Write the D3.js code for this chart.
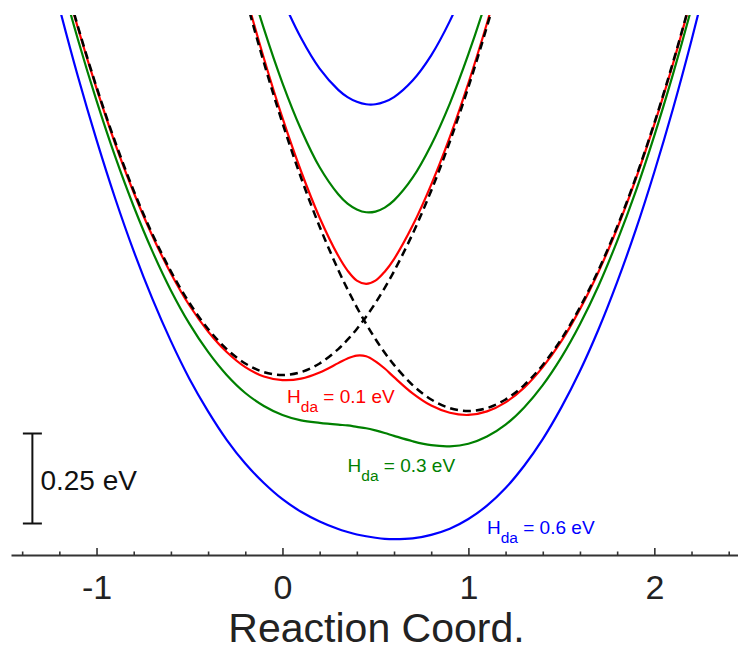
<!DOCTYPE html>
<html>
<head>
<meta charset="utf-8">
<script src="https://cdn.jsdelivr.net/npm/d3@7"></script>
<style>
  html, body { margin: 0; padding: 0; background: #fff; }
  svg { display: block; font-family: "Liberation Sans", Arial, Helvetica, sans-serif; }
</style>
</head>
<body>
<div id="chart"></div>
<script>
// reaction coordinate samples, energies in eV (0 = reactant minimum)
const coords = [-1.3, -1.2, -1.1, -1.0, -0.9, -0.8, -0.7, -0.6, -0.5, -0.4, -0.3, -0.2, -0.1, 0, 0.1, 0.2, 0.3, 0.35, 0.4, 0.45, 0.5, 0.55, 0.6, 0.7, 0.8, 0.9, 1.0, 1.1, 1.2, 1.3, 1.4, 1.5, 1.6, 1.7, 1.8, 1.9, 2.0, 2.1, 2.2, 2.3];

const diabaticA = [1.352, 1.152, 0.968, 0.800, 0.648, 0.512, 0.392, 0.288, 0.200, 0.128, 0.072, 0.032, 0.008, 0.000, 0.008, 0.032, 0.072, 0.098, 0.128, 0.162, 0.200, 0.242, 0.288, 0.392, 0.512, 0.648, 0.800, 0.968, 1.152, 1.352, null, null, null, null, null, null, null, null, null, null];
const diabaticB = [null, null, null, null, null, null, null, null, null, null, 1.252, 1.052, 0.868, 0.700, 0.548, 0.412, 0.292, 0.238, 0.188, 0.142, 0.100, 0.062, 0.028, -0.028, -0.068, -0.092, -0.100, -0.092, -0.068, -0.028, 0.028, 0.100, 0.188, 0.292, 0.412, 0.548, 0.700, 0.868, 1.052, 1.252];

const lower01 = [1.348, 1.148, 0.964, 0.796, 0.643, 0.507, 0.387, 0.282, 0.193, 0.121, 0.064, 0.022, -0.004, -0.014, -0.010, 0.007, 0.033, 0.046, 0.054, 0.052, 0.038, 0.018, -0.006, -0.051, -0.085, -0.105, -0.111, -0.101, -0.076, -0.035, 0.022, 0.094, 0.183, 0.287, 0.407, 0.544, 0.696, 0.864, 1.049, 1.249];
const upper01 = [null, null, null, null, null, null, null, null, null, null, 1.260, 1.062, 0.880, 0.714, 0.566, 0.437, 0.331, 0.290, 0.262, 0.253, 0.262, 0.287, 0.322, 0.415, 0.529, 0.661, 0.811, 0.977, 1.160, null, null, null, null, null, null, null, null, null, null, null];

const lower03 = [1.320, 1.118, 0.932, 0.762, 0.607, 0.468, 0.344, 0.235, 0.142, 0.064, 0.000, -0.050, -0.086, -0.111, -0.126, -0.133, -0.138, -0.140, -0.144, -0.148, -0.154, -0.161, -0.169, -0.184, -0.195, -0.198, -0.191, -0.171, -0.138, -0.090, -0.028, 0.049, 0.141, 0.248, 0.372, 0.510, 0.665, 0.835, 1.020, 1.222];
const upper03 = [null, null, null, null, null, null, null, null, null, null, 1.324, 1.134, 0.962, 0.811, 0.682, 0.577, 0.502, 0.476, 0.460, 0.452, 0.454, 0.465, 0.485, 0.548, 0.639, 0.754, 0.891, 1.047, 1.222, null, null, null, null, null, null, null, null, null, null, null];

const lower06 = [1.228, 1.021, 0.829, 0.653, 0.491, 0.344, 0.212, 0.094, -0.011, -0.101, -0.180, -0.246, -0.300, -0.345, -0.380, -0.407, -0.428, -0.436, -0.443, -0.448, -0.452, -0.455, -0.456, -0.454, -0.444, -0.427, -0.400, -0.363, -0.314, -0.252, -0.178, -0.090, 0.011, 0.127, 0.258, 0.403, 0.564, 0.739, 0.930, 1.136];
const upper06 = [null, null, null, null, null, null, null, null, null, null, null, null, 1.176, 1.045, 0.936, 0.851, 0.792, 0.772, 0.759, 0.752, 0.752, 0.759, 0.772, 0.818, 0.888, 0.983, 1.100, null, null, null, null, null, null, null, null, null, null, null, null, null];

const couplings = ["0.1", "0.3", "0.6"];
const labelX = [0.025, 0.35, 1.10];
const labelE = [-0.077, -0.269, -0.442];

const majorTicks = [-1, 0, 1, 2];
const minorTicks = [-1.4, -1.2, -0.8, -0.6, -0.4, -0.2, 0.2, 0.4, 0.6, 0.8, 1.2, 1.4, 1.6, 1.8, 2.2, 2.4];

const scaleBarE = 0.25;
const scaleBarMid = -0.2875;
const scaleBarX = -1.345;

const width = 738;
const height = 652;

const svg = d3.select("#chart").append("svg")
  .attr("width", width)
  .attr("height", height);

const x = d3.scaleLinear().domain([-1.46, 2.45]).range([11, 738]);
const y = d3.scaleLinear().domain([-0.5, 1.0]).range([555, 15]);

svg.append("clipPath")
  .attr("id", "plot-clip")
  .append("rect")
  .attr("x", 0)
  .attr("y", y(1.0))
  .attr("width", width)
  .attr("height", y(-0.5) - y(1.0));

const line = d3.line()
  .defined((d) => d[1] != null)
  .x((d) => x(d[0]))
  .y((d) => y(d[1]))
  .curve(d3.curveCatmullRom.alpha(0.5));

const series = [
  { values: lower06, color: "#0000ff" },
  { values: upper06, color: "#0000ff" },
  { values: lower03, color: "#008000" },
  { values: upper03, color: "#008000" },
  { values: lower01, color: "#ff0000" },
  { values: upper01, color: "#ff0000" },
  { values: diabaticA, color: "#000", dash: "8,5" },
  { values: diabaticB, color: "#000", dash: "8,5" },
];

const curves = svg.append("g").attr("clip-path", "url(#plot-clip)");

curves.selectAll("path")
  .data(series)
  .join("path")
  .attr("fill", "none")
  .attr("stroke", (d) => d.color)
  .attr("stroke-width", (d) => (d.dash ? 2.5 : 2.2))
  .attr("stroke-dasharray", (d) => d.dash || null)
  .attr("d", (d) => line(coords.map((c, i) => [c, d.values[i]])));

// Hda labels
const labelColors = ["#ff0000", "#008000", "#0000ff"];
const labels = svg.append("g").attr("font-size", 19);
couplings.forEach((h, i) => {
  const t = labels.append("text")
    .attr("x", x(labelX[i]))
    .attr("y", y(labelE[i]))
    .attr("fill", labelColors[i]);
  t.append("tspan").text("H");
  t.append("tspan").attr("font-size", 15.5).attr("dy", 9).text("da");
  t.append("tspan").attr("dy", -9).text(` = ${h} eV`);
});

// energy scale bar
const bar = svg.append("g").attr("stroke", "#111").attr("stroke-width", 2);
const bx = x(scaleBarX);
const yTop = y(scaleBarMid + scaleBarE / 2);
const yBot = y(scaleBarMid - scaleBarE / 2);
bar.append("line").attr("x1", bx).attr("x2", bx).attr("y1", yTop).attr("y2", yBot);
bar.append("line").attr("x1", bx - 9.5).attr("x2", bx + 9.5).attr("y1", yTop).attr("y2", yTop);
bar.append("line").attr("x1", bx - 9.5).attr("x2", bx + 9.5).attr("y1", yBot).attr("y2", yBot);
svg.append("text")
  .attr("x", bx + 8)
  .attr("y", y(scaleBarMid) + 11)
  .attr("font-size", 28)
  .attr("fill", "#111")
  .text(`${scaleBarE} eV`);

// x axis, ticks pointing up
const axisG = svg.append("g").attr("transform", `translate(0,${y(-0.5)})`);

axisG.append("g")
  .call(d3.axisBottom(x).tickValues(minorTicks).tickSize(-3.5).tickFormat(""))
  .call((g) => g.select(".domain").remove())
  .call((g) => g.selectAll("line").attr("stroke", "#333").attr("stroke-width", 1.6));

axisG.append("g")
  .call(d3.axisBottom(x).tickValues(majorTicks).tickSize(-7).tickSizeOuter(0).tickPadding(20).tickFormat((d) => String(d)))
  .call((g) => g.select(".domain").attr("stroke", "#333").attr("stroke-width", 1.8))
  .call((g) => g.selectAll("line").attr("stroke", "#333").attr("stroke-width", 1.6))
  .call((g) => g.selectAll("text")
    .attr("font-size", 34)
    .attr("font-family", "Liberation Sans, Arial, Helvetica, sans-serif")
    .attr("fill", "#222"));

svg.append("text")
  .attr("x", (x.range()[0] + x.range()[1]) / 2 + 2)
  .attr("y", 642)
  .attr("text-anchor", "middle")
  .attr("font-size", 41)
  .attr("fill", "#222")
  .text("Reaction Coord.");
</script>
</body>
</html>
